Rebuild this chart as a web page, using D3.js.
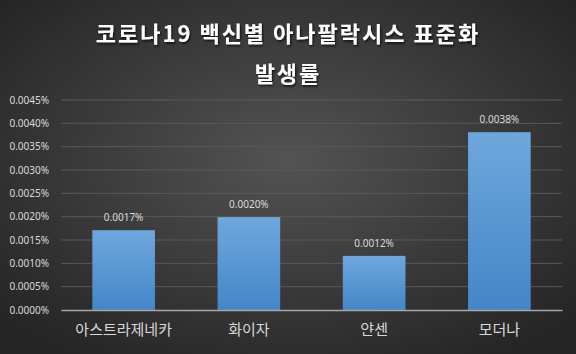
<!DOCTYPE html>
<html>
<head>
<meta charset="utf-8">
<script src="https://cdn.jsdelivr.net/npm/d3@7"></script>
<style>
  html, body { margin: 0; padding: 0; background: #333; }
  svg { display: block; }
</style>
</head>
<body>
<div id="chart"></div>
<script>
// Standardised anaphylaxis rate by COVID-19 vaccine
const vaccines = ["아스트라제네카", "화이자", "얀센", "모더나"];
const rates = [0.00171, 0.00199, 0.00116, 0.00381];   // percent
const rateLabels = ["0.0017%", "0.0020%", "0.0012%", "0.0038%"];
const yTicks = [0, 0.0005, 0.001, 0.0015, 0.002, 0.0025, 0.003, 0.0035, 0.004, 0.0045];

(function () {
  const W = 576, H = 354;
  const margin = { top: 100, right: 14, bottom: 44, left: 61 },
      width = W - margin.left - margin.right,
      height = H - margin.top - margin.bottom;

  const font = "'Noto Sans', 'Noto Sans CJK KR', sans-serif";

  const root = d3.select("#chart").append("svg")
      .attr("width", W)
      .attr("height", H);

  const defs = root.append("defs");

  // dark radial background
  const bg = defs.append("radialGradient")
      .attr("id", "bg")
      .attr("cx", "50%").attr("cy", "45%").attr("r", "65%");
  bg.append("stop").attr("offset", "0%").attr("stop-color", "#535353");
  bg.append("stop").attr("offset", "100%").attr("stop-color", "#262626");

  const barGrad = defs.append("linearGradient")
      .attr("id", "bar")
      .attr("x1", 0).attr("y1", 0).attr("x2", 0).attr("y2", 1);
  barGrad.append("stop").attr("offset", "0%").attr("stop-color", "#6fa7dd");
  barGrad.append("stop").attr("offset", "100%").attr("stop-color", "#4386c8");

  const shadow = defs.append("filter").attr("id", "ts")
      .attr("x", "-10%").attr("y", "-20%").attr("width", "120%").attr("height", "150%");
  shadow.append("feDropShadow")
      .attr("dx", 1).attr("dy", 1.5).attr("stdDeviation", 1)
      .attr("flood-color", "#000").attr("flood-opacity", 0.8);

  root.append("rect")
      .attr("width", W).attr("height", H)
      .attr("fill", "url(#bg)");

  // title
  const title = root.append("text")
      .attr("text-anchor", "middle")
      .attr("fill", "#ffffff")
      .attr("font-family", "'Noto Sans CJK KR', sans-serif")
      .attr("font-weight", "bold")
      .attr("font-size", "22px")
      .attr("letter-spacing", "2px")
      .attr("filter", "url(#ts)");
  title.append("tspan").attr("x", W / 2).attr("y", 42).text("코로나19 백신별 아나팔락시스 표준화");
  title.append("tspan").attr("x", W / 2).attr("y", 82).text("발생률");

  const svg = root.append("g")
      .attr("transform", "translate(" + margin.left + "," + margin.top + ")");

  const xScale = d3.scaleBand()
      .domain(vaccines)
      .range([0, width])
      .paddingInner(0.5)
      .paddingOuter(0.25);

  const yScale = d3.scaleLinear()
      .domain([0, 0.0045])
      .range([height, 0]);

  // gridlines
  svg.append("g")
      .selectAll("line")
      .data(yTicks.slice(1))
      .enter()
      .append("line")
      .attr("x1", 0).attr("x2", width)
      .attr("y1", d => yScale(d)).attr("y2", d => yScale(d))
      .attr("stroke", "#5a5a5a")
      .attr("stroke-width", 1);

  // y axis labels
  const yAxis = d3.axisLeft(yScale)
      .tickValues(yTicks)
      .tickFormat(d => d.toFixed(4) + "%")
      .tickSize(0)
      .tickPadding(12);

  svg.append("g")
      .call(yAxis)
      .call(g => g.select(".domain").remove())
      .selectAll("text")
      .attr("fill", "#d9d9d9")
      .attr("font-family", font)
      .attr("font-size", "10px");

  // bars
  svg.selectAll("rect.bar")
      .data(rates)
      .enter()
      .append("rect")
      .attr("class", "bar")
      .attr("x", (d, i) => xScale(vaccines[i]))
      .attr("y", d => yScale(d))
      .attr("width", xScale.bandwidth())
      .attr("height", d => height - yScale(d))
      .attr("fill", "url(#bar)");

  // value labels
  svg.selectAll("text.val")
      .data(rates)
      .enter()
      .append("text")
      .attr("class", "val")
      .attr("x", (d, i) => xScale(vaccines[i]) + xScale.bandwidth() / 2)
      .attr("y", d => yScale(d) - 9)
      .attr("text-anchor", "middle")
      .attr("fill", "#d9d9d9")
      .attr("font-family", font)
      .attr("font-size", "10px")
      .text((d, i) => rateLabels[i]);

  // x axis
  const xAxis = d3.axisBottom(xScale).tickSize(0).tickPadding(14);
  svg.append("g")
      .attr("transform", "translate(0," + height + ")")
      .call(xAxis)
      .call(g => g.select(".domain").attr("stroke", "#a6a6a6").attr("stroke-width", 1.3))
      .selectAll("text")
      .attr("fill", "#d9d9d9")
      .attr("font-family", "'Noto Sans CJK KR', sans-serif")
      .attr("font-size", "15px");
})();
</script>
</body>
</html>
